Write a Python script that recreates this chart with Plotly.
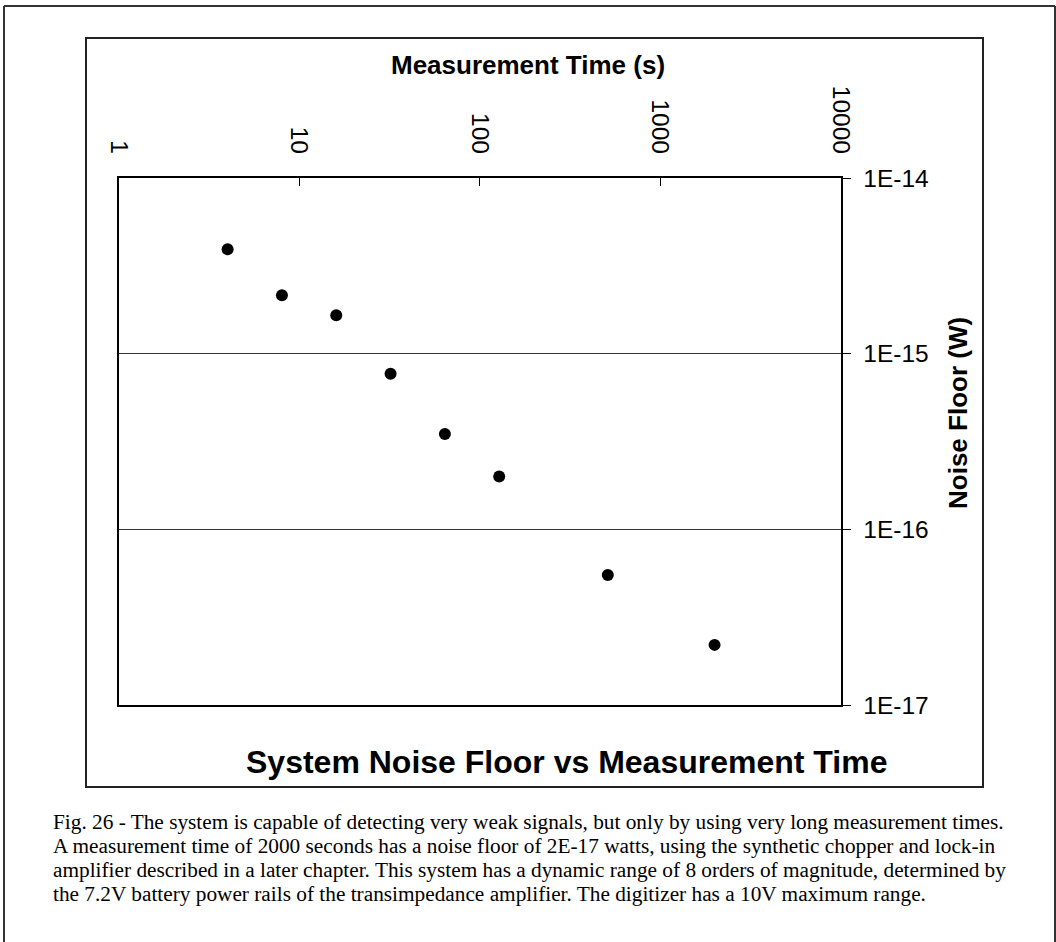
import plotly.graph_objects as go

# ---- data ----
meas_time = [4, 8, 16, 32, 64, 128, 512, 2000]
noise_floor = [3.94e-15, 2.16e-15, 1.66e-15, 7.7e-16, 3.5e-16, 2.0e-16, 5.5e-17, 2.2e-17]

x_tick_vals = [1, 10, 100, 1000, 10000]
x_tick_text = ["1", "10", "100", "1000", "10000"]
y_tick_vals = [1e-17, 1e-16, 1e-15, 1e-14]
y_tick_text = ["1E-17", "1E-16", "1E-15", "1E-14"]

x_title = "Measurement Time (s)"
y_title = "Noise Floor (W)"
chart_title = "System Noise Floor vs Measurement Time"
caption_lines = [
    "Fig. 26 - The system is capable of detecting very weak signals, but only by using very long measurement times.",
    "A measurement time of 2000 seconds has a noise floor of 2E-17 watts, using the synthetic chopper and lock-in",
    "amplifier described in a later chapter. This system has a dynamic range of 8 orders of magnitude, determined by",
    "the 7.2V battery power rails of the transimpedance amplifier. The digitizer has a 10V maximum range.",
]

W, H = 1056, 942
SANS = "Liberation Sans, Arial, sans-serif"
SERIF = "Liberation Serif, Times New Roman, serif"

def px(x):
    return x / W

def py(y):
    return 1 - y / H

fig = go.Figure()
fig.add_trace(go.Scatter(
    x=meas_time, y=noise_floor, mode="markers",
    marker=dict(size=12, color="black", line=dict(width=0)),
    showlegend=False, hoverinfo="x+y",
))

fig.update_layout(
    template="none",
    width=W, height=H, autosize=False,
    margin=dict(l=0, r=0, t=0, b=0, pad=0, autoexpand=False),
    paper_bgcolor="white", plot_bgcolor="white",
    font=dict(family=SANS, color="black"),
    showlegend=False,
    xaxis=dict(
        type="log", range=[0, 4], side="top", automargin=False,
        domain=[px(119), px(840.7)],
        tickvals=x_tick_vals, ticktext=x_tick_text, tickangle=90,
        ticks="inside", ticklen=8, tickwidth=1, tickcolor="black",
        tickfont=dict(family=SANS, size=24.5, color="black"),
        ticklabelstandoff=14,
        showgrid=False, zeroline=False,
        showline=True, linecolor="black", linewidth=1.5, mirror=True,
    ),
    yaxis=dict(
        type="log", range=[-17, -14], side="right", automargin=False,
        domain=[py(705), py(178.3)],
        tickvals=y_tick_vals, ticktext=y_tick_text,
        ticks="outside", ticklen=9, tickwidth=1, tickcolor="black",
        tickfont=dict(family=SANS, size=24.5, color="black"),
        ticklabelstandoff=7,
        showgrid=True, gridcolor="#333333", gridwidth=1,
        zeroline=False,
        showline=True, linecolor="black", linewidth=1.5, mirror=True,
    ),
)

shapes = []
# outer page border (top, left, right)
shapes.append(dict(type="line", xref="paper", yref="paper", x0=px(4), x1=px(1055), y0=py(6), y1=py(6), line=dict(color="#333333", width=2)))
shapes.append(dict(type="line", xref="paper", yref="paper", x0=px(4), x1=px(4), y0=py(6), y1=py(942), line=dict(color="#333333", width=2)))
shapes.append(dict(type="line", xref="paper", yref="paper", x0=px(1055), x1=px(1055), y0=py(6), y1=py(942), line=dict(color="#333333", width=2)))
# chart box
shapes.append(dict(type="rect", xref="paper", yref="paper", x0=px(86), x1=px(983), y0=py(787), y1=py(38), line=dict(color="#222222", width=2), fillcolor="rgba(0,0,0,0)", layer="below"))
fig.update_layout(shapes=shapes)

ann = []
ann.append(dict(text="<b>" + x_title + "</b>", xref="paper", yref="paper", x=px(528), y=py(65.3), xanchor="center", yanchor="middle", showarrow=False, font=dict(family=SANS, size=26, color="black")))
ann.append(dict(text="<b>" + y_title + "</b>", xref="paper", yref="paper", x=px(958), y=py(413), xanchor="center", yanchor="middle", textangle=-90, showarrow=False, font=dict(family=SANS, size=26, color="black")))
ann.append(dict(text="<b>" + chart_title + "</b>", xref="paper", yref="paper", x=px(566.5), y=py(762), xanchor="center", yanchor="middle", showarrow=False, font=dict(family=SANS, size=32, color="black")))
for i, line in enumerate(caption_lines):
    ann.append(dict(text=line, xref="paper", yref="paper", x=px(50.7), y=py(829 + 24 * i - 7.2), xanchor="left", yanchor="middle", showarrow=False, font=dict(family=SERIF, size=21.3, color="black")))
fig.update_layout(annotations=ann)

fig.write_html("out.html")
